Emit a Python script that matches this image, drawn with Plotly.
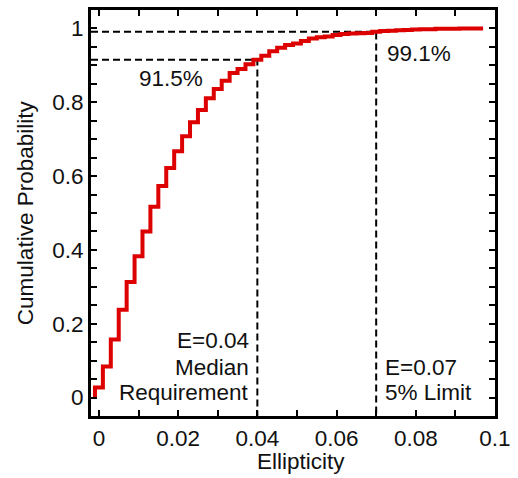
import plotly.graph_objects as go

# ---- data ----
bin_width = 0.002
bin_centers = [round(0.002 * k, 3) for k in range(49)]
cdf_values = [
    0.027, 0.084, 0.157, 0.238, 0.313, 0.383, 0.450, 0.517, 0.573, 0.622,
    0.667, 0.708, 0.746, 0.779, 0.811, 0.836, 0.858, 0.879, 0.890, 0.903,
    0.915, 0.926, 0.938, 0.948, 0.955, 0.959, 0.966, 0.973, 0.976, 0.978,
    0.982, 0.985, 0.986, 0.987, 0.988, 0.991, 0.993, 0.994, 0.995, 0.996,
    0.997, 0.998, 0.998, 0.999, 0.999, 0.999, 1.000, 1.000, 1.000,
]
thresholds = [0.04, 0.07]
threshold_levels = [0.915, 0.991]
level_labels = ["91.5%", "99.1%"]
threshold_lines = [["E=0.04", "Median", "Requirement"], ["E=0.07", "5% Limit"]]
x_tick_vals = [0.0, 0.01, 0.02, 0.03, 0.04, 0.05, 0.06, 0.07, 0.08, 0.09, 0.1]
x_tick_text = ["0", "", "0.02", "", "0.04", "", "0.06", "", "0.08", "", "0.1"]
y_tick_vals = [0.0, 0.05, 0.1, 0.15, 0.2, 0.25, 0.3, 0.35, 0.4, 0.45, 0.5,
               0.55, 0.6, 0.65, 0.7, 0.75, 0.8, 0.85, 0.9, 0.95, 1.0]
y_tick_text = ["0", "", "", "", "0.2", "", "", "", "0.4", "", "", "", "0.6",
               "", "", "", "0.8", "", "", "", "1"]

x_range = [-0.002, 0.1]
y_range = [-0.05, 1.05]

FONT = "Arial, Liberation Sans, Helvetica, sans-serif"
FS = 22.5
TXT = "#111"

# step curve from bin edges
left_edges = [c - bin_width / 2 for c in bin_centers]
xs = [left_edges[0]] + left_edges + [bin_centers[-1] + bin_width / 2]
ys = [0.0] + cdf_values + [cdf_values[-1]]

fig = go.Figure()

# dashed guide lines
for t, lv in zip(thresholds, threshold_levels):
    fig.add_trace(go.Scatter(
        x=[x_range[0], t, t], y=[lv, lv, y_range[0]],
        mode="lines", line=dict(color="black", width=2, dash="7px,4px"),
        hoverinfo="skip", showlegend=False))

fig.add_trace(go.Scatter(
    x=xs, y=ys, mode="lines", line=dict(color="#dd0000", width=4, shape="hv"),
    showlegend=False))

font = dict(family=FONT, size=FS, color=TXT)
annotations = []
# percentage labels
annotations.append(dict(x=0.0181, y=0.865, xref="x", yref="y", text=level_labels[0],
                        showarrow=False, xanchor="center", yanchor="middle", font=font))
annotations.append(dict(x=0.0807, y=0.933, xref="x", yref="y", text=level_labels[1],
                        showarrow=False, xanchor="center", yanchor="middle", font=font))
# threshold labels, one line each
line_y = [0.154, 0.081, 0.014]
for i, s in enumerate(threshold_lines[0]):
    annotations.append(dict(x=thresholds[0], y=line_y[i], xref="x", yref="y", xshift=-6,
                            text=s, showarrow=False, xanchor="right", yanchor="middle",
                            font=font))
for i, s in enumerate(threshold_lines[1]):
    annotations.append(dict(x=thresholds[1], y=line_y[i + 1], xref="x", yref="y", xshift=7,
                            text=s, showarrow=False, xanchor="left", yanchor="middle",
                            font=font))
# axis titles
annotations.append(dict(x=-0.163, y=0.5, xref="paper", yref="paper",
                        text="Cumulative Probability", textangle=-90, showarrow=False,
                        xanchor="center", yanchor="middle", font=font))
annotations.append(dict(x=0.5195, y=-0.1125, xref="paper", yref="paper",
                        text="Ellipticity", showarrow=False,
                        xanchor="center", yanchor="middle", font=font))

axis_common = dict(showgrid=False, zeroline=False, showline=True, linecolor="black",
                   linewidth=3, mirror="allticks", ticks="inside", ticklen=6,
                   tickwidth=1.5, tickcolor="black",
                   tickfont=dict(family=FONT, size=FS, color=TXT))

fig.update_layout(
    width=518, height=478,
    margin=dict(l=91, r=17, t=7, b=62),
    paper_bgcolor="white", plot_bgcolor="white",
    xaxis=dict(range=x_range, tickmode="array", tickvals=x_tick_vals,
               ticktext=x_tick_text, **axis_common),
    yaxis=dict(range=y_range, tickmode="array", tickvals=y_tick_vals,
               ticktext=y_tick_text, **axis_common),
    annotations=annotations,
)

fig.write_html("out.html")
